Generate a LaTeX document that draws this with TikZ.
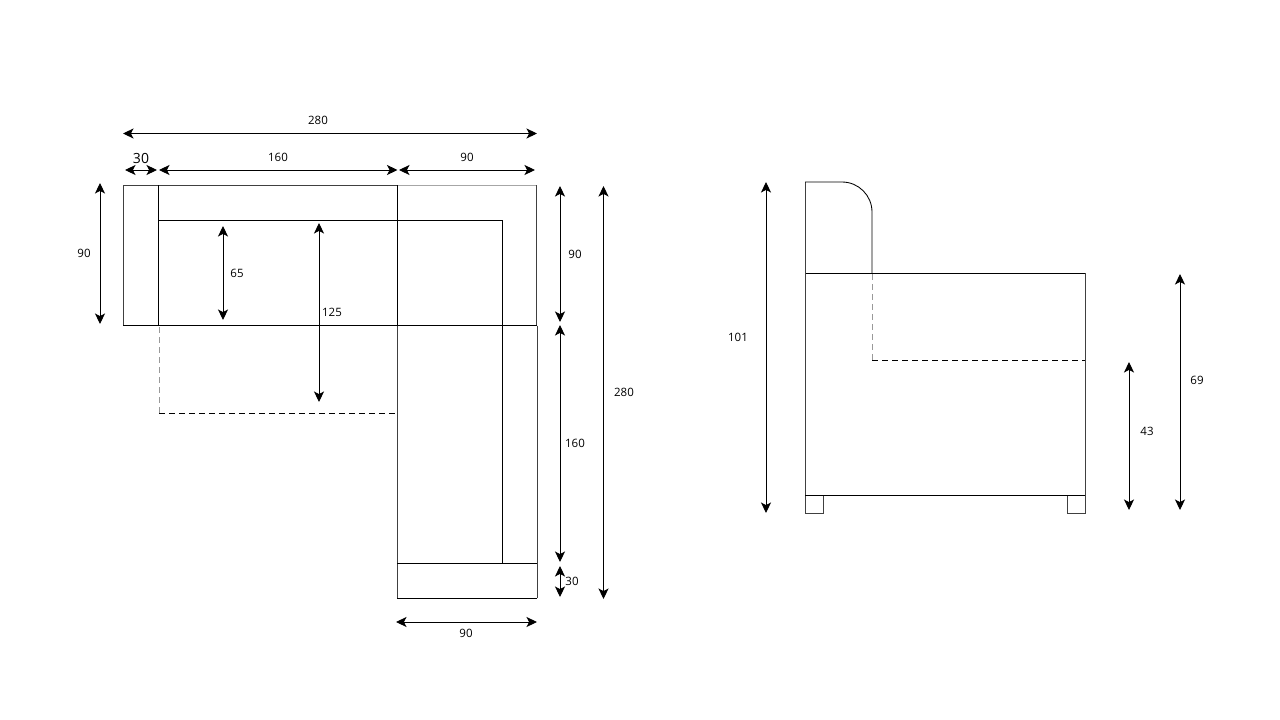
\documentclass[tikz,border=0pt]{standalone}
\usepackage{fontspec}
\setmainfont{Open Sans}
\usetikzlibrary{arrows.meta}
\tikzset{
  x=1pt,y=-1pt,
  sofa/.style={draw=black,line width=0.85pt},
  pale/.style={draw=black!75,line width=0.9pt},
  paler/.style={draw=black!35,line width=1pt},
  dashblack/.style={draw=black,line width=0.85pt,dash pattern=on 6pt off 4pt},
  dashgray/.style={draw=black!40,line width=0.85pt,dash pattern=on 6pt off 4pt},
  dim/.style={draw=black,line width=0.95pt,{Stealth[length=10.5pt,width=10pt,inset=2.6pt]}-{Stealth[length=10.5pt,width=10pt,inset=2.6pt]}},
  lab/.style={inner sep=0pt,font=\fontsize{11.5pt}{13pt}\selectfont},
  labbig/.style={inner sep=0pt,font=\fontsize{14pt}{16pt}\selectfont}
}
\begin{document}
\begin{tikzpicture}
\useasboundingbox (0,0) rectangle (1280,720);
\fill[white] (0,0) rectangle (1280,720);
% plan view
\draw[paler] (397,185) -- (536.5,185);
\draw[pale] (536.5,185) -- (536.5,325.5);
\draw[pale] (397,185) -- (123.5,185) -- (123.5,325.5);
\draw[sofa] (158.5,185) -- (158.5,325.5);
\draw[sofa] (158,220) -- (502.5,220) -- (502.5,563.5);
\draw[sofa] (397,185) -- (397,325.5);
\draw[pale] (397,325.5) -- (397,598);
\draw[sofa] (123,325.5) -- (537,325.5);
\draw[pale] (537,325.5) -- (537,598);
\draw[sofa] (537,598) -- (397,598);
\draw[sofa] (397,563.5) -- (537,563.5);
\draw[dashgray] (159,327) -- (159,413);
\draw[dashblack] (159,413) -- (397,413);
% side view
\draw[pale] (805,273) -- (805,182);
\draw[sofa] (805,182) -- (842,182) arc[start angle=-90,end angle=0,radius=30] -- (872,273);
\draw[sofa] (805,273) -- (1085,273);
\draw[pale] (1085,273) -- (1085,513) -- (1067,513) -- (1067,495);
\draw[pale] (805,273) -- (805,513) -- (823.5,513) -- (823.5,495);
\draw[sofa] (805,495) -- (1085,495);
\draw[dashgray] (872,274) -- (872,360);
\draw[dashblack] (872,360) -- (1085,360);
% plan dimensions
\draw[dim] (123,133.5) -- (537,133.5);
\draw[dim] (125,170) -- (157,170);
\draw[dim] (159,170) -- (397.5,170);
\draw[dim] (399,170) -- (535,170);
\draw[dim] (100,183) -- (100,324);
\draw[dim] (223,226) -- (223,320);
\draw[dim] (319,223) -- (319,402);
\draw[dim] (560,186) -- (560,322);
\draw[dim] (560,325) -- (560,562);
\draw[dim] (560,566) -- (560,597);
\draw[dim] (603.5,186) -- (603.5,599);
\draw[dim] (396,622) -- (537,622);
% side dimensions
\draw[dim] (766,182) -- (766,513);
\draw[dim] (1129,362) -- (1129,510);
\draw[dim] (1180,274) -- (1180,510);
% labels
\node[lab] (l280top) at (318,120) {280};
\node[labbig] (l30top) at (141,158) {30};
\node[lab] (l160top) at (278,157) {160};
\node[lab] (l90top) at (467,157) {90};
\node[lab] (l90left) at (84,253) {90};
\node[lab] (l65) at (237,273) {65};
\node[lab] (l125) at (332,312) {125};
\node[lab] (l90right) at (575,254) {90};
\node[lab] (l160right) at (575,443) {160};
\node[lab] (l30right) at (572,581) {30};
\node[lab] (l280right) at (624,392) {280};
\node[lab] (l90bottom) at (466,633) {90};
\node[lab] (l101) at (738,337) {101};
\node[lab] (l43) at (1147,431) {43};
\node[lab] (l69) at (1197,380) {69};
\end{tikzpicture}
\end{document}
